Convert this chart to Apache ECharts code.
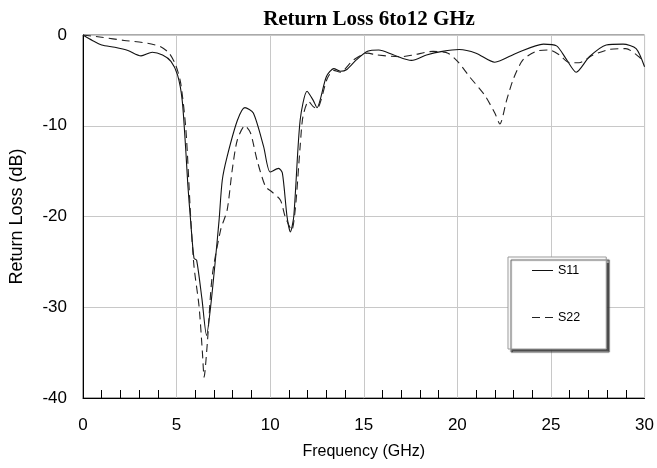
<!DOCTYPE html>
<html>
<head>
<meta charset="utf-8">
<script src="https://cdn.jsdelivr.net/npm/echarts@6/dist/echarts.min.js"></script>
<style>html,body{margin:0;padding:0;background:#fff}#c{width:657px;height:468px}</style>
</head>
<body>
<div id="c"></div>
<script>
var freqS11 = [0, 0.5, 1.0, 1.7, 2.4, 3.1, 3.7, 4.25, 4.7, 5.05, 5.3, 5.5, 5.6, 5.75, 5.93, 6.07, 6.35, 6.6, 6.82, 7.09, 7.27, 7.44, 7.7, 8.25, 8.65, 9.1, 9.65, 10.0, 10.45, 10.65, 10.9, 11.08, 11.26, 11.6, 11.97, 12.3, 12.5, 13.0, 13.4, 13.75, 14.1, 14.6, 15.2, 15.8, 16.6, 17.55, 18.35, 19.2, 20.1, 21.0, 22.0, 23.15, 24.6, 25.3, 25.8, 26.35, 27.05, 27.95, 28.85, 29.55, 30];
var s11 = [0, -0.6, -1.1, -1.35, -1.7, -2.3, -1.9, -2.2, -2.9, -4.4, -7.2, -13, -16.5, -20.5, -24.6, -24.8, -29, -33.1, -29.9, -24.4, -20.4, -16, -13.4, -9.4, -8.0, -8.6, -12.3, -15.1, -14.7, -15.2, -20, -21.7, -20, -9.4, -6.2, -7.2, -8.0, -4.6, -3.7, -4.0, -3.8, -2.75, -1.8, -1.65, -2.2, -2.8, -2.2, -1.8, -1.6, -2.0, -3.0, -2.0, -1.0, -1.2, -2.6, -4.1, -2.4, -1.1, -1.0, -1.5, -3.5];
var freqS22 = [0, 1.0, 2.2, 3.45, 4.15, 4.6, 4.95, 5.22, 5.5, 5.75, 5.93, 6.2, 6.38, 6.47, 6.64, 6.9, 7.35, 7.7, 7.97, 8.24, 8.65, 8.95, 9.3, 9.75, 10.1, 10.55, 10.8, 11.15, 11.35, 11.6, 11.75, 12.05, 12.3, 12.5, 13.05, 13.4, 13.75, 14.45, 15.2, 15.7, 16.95, 17.65, 18.7, 19.5, 20.05, 20.65, 21.45, 22.0, 22.27, 22.63, 23.0, 23.5, 24.2, 24.9, 25.45, 26.0, 26.5, 27.25, 28.1, 29.0, 29.7, 30];
var s22 = [0, -0.25, -0.6, -0.9, -1.3, -2.0, -3.3, -5.3, -10.5, -20, -25.5, -29.9, -35, -37.7, -34, -26.6, -21.5, -19.3, -14.9, -11.6, -10.0, -10.8, -13.8, -16.7, -17.3, -18.2, -20, -21.5, -19, -12.3, -9, -7.3, -7.9, -8.1, -4.8, -3.9, -4.1, -2.75, -2.0, -2.2, -2.4, -2.2, -1.8, -2.0, -3.0, -4.6, -6.6, -8.6, -9.8, -7.2, -4.8, -2.75, -1.8, -1.65, -2.2, -3.05, -3.05, -2.2, -1.6, -1.5, -2.4, -3.0];
var xTicks = [0, 5, 10, 15, 20, 25, 30];
var yTicks = [0, -10, -20, -30, -40];

function pairs(xs, ys) { return xs.map(function (x, i) { return [x, ys[i]]; }); }

var chart = echarts.init(document.getElementById('c'), null, {renderer: 'canvas'});
chart.setOption({
  animation: false,
  title: {
    text: 'Return Loss 6to12 GHz',
    left: 364, top: 4, textAlign: 'center',
    textStyle: {fontFamily: 'Liberation Serif', fontWeight: 'bold', fontSize: 21, color: '#000'}
  },
  grid: {left: 82, right: 12, top: 35, bottom: 70, show: true, borderColor: '#555', borderWidth: 1, backgroundColor: 'transparent'},
  legend: {
    orient: 'vertical', left: 508, top: 257,
    padding: [7, 26, 25, 24], itemGap: 34, itemWidth: 21, itemHeight: 2,
    backgroundColor: '#fff', borderColor: '#999', borderWidth: 1,
    shadowColor: 'rgba(60,60,60,0.9)', shadowBlur: 1, shadowOffsetX: 3, shadowOffsetY: 3,
    textStyle: {fontFamily: 'Liberation Sans', fontSize: 12.5, color: '#000'},
    data: [
      {name: 'S11', icon: 'path://M0,0 L21,0 L21,1 L0,1 Z', itemStyle: {color: '#111'}},
      {name: 'S22', icon: 'path://M0,0 L8,0 L8,1 L0,1 Z M13,0 L21,0 L21,1 L13,1 Z', itemStyle: {color: '#222'}}
    ]
  },
  xAxis: {
    type: 'value', min: 0, max: 30, interval: 5,
    name: 'Frequency (GHz)', nameLocation: 'middle', nameGap: 46,
    nameTextStyle: {fontFamily: 'Liberation Sans', fontSize: 16, color: '#000'},
    axisLine: {onZero: false, lineStyle: {color: '#000', width: 1}},
    axisTick: {show: false, inside: true},
    minorTick: {show: true, splitNumber: 5, length: 8, lineStyle: {color: '#000', width: 1}},
    minorSplitLine: {show: false},
    axisLabel: {fontFamily: 'Liberation Sans', fontSize: 17, color: '#000', margin: 19,
      formatter: function (v) { return xTicks.indexOf(v) >= 0 ? String(v) : ''; }},
    splitLine: {show: true, lineStyle: {color: '#c8c8c8', width: 1}}
  },
  yAxis: {
    type: 'value', min: -40, max: 0, interval: 10,
    name: 'Return Loss (dB)', nameLocation: 'middle', nameGap: 57, nameRotate: 90,
    nameTextStyle: {fontFamily: 'Liberation Sans', fontSize: 18, color: '#000'},
    axisLine: {show: true, onZero: false, lineStyle: {color: '#000', width: 1}},
    axisTick: {show: false},
    axisLabel: {fontFamily: 'Liberation Sans', fontSize: 17, color: '#000', margin: 16,
      formatter: function (v) { return yTicks.indexOf(v) >= 0 ? String(v) : ''; }},
    splitLine: {show: true, lineStyle: {color: '#c8c8c8', width: 1}}
  },
  series: [{
    name: 'S11', type: 'line', data: pairs(freqS11, s11), symbol: 'none', smooth: 0.25,
    lineStyle: {color: '#111', width: 1.1, type: 'solid'}, itemStyle: {color: '#111'}
  }, {
    name: 'S22', type: 'line', data: pairs(freqS22, s22), symbol: 'none', smooth: 0.25,
    lineStyle: {color: '#222', width: 1.1, type: [8, 5]}, itemStyle: {color: '#222'}
  }]
});
</script>
</body>
</html>
